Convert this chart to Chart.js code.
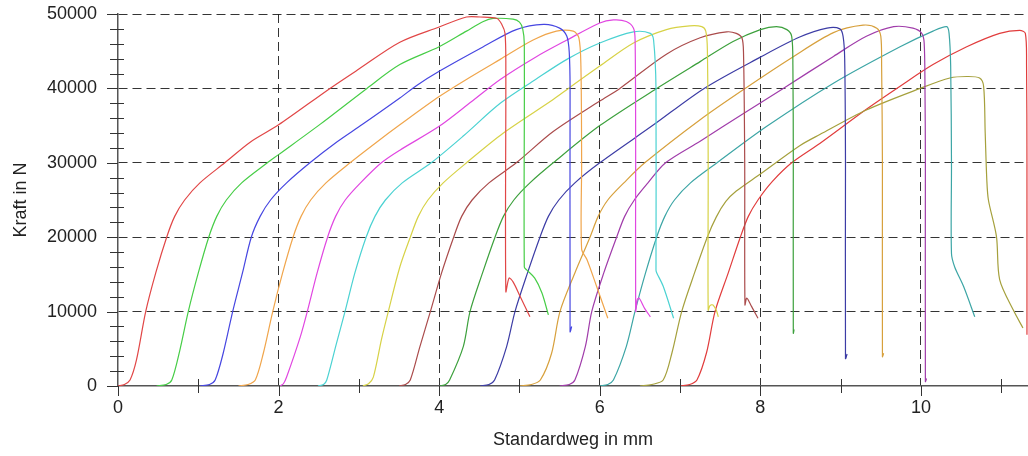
<!DOCTYPE html>
<html>
<head>
<meta charset="utf-8">
<script src="https://cdn.jsdelivr.net/npm/chart.js@4"></script>
<style>
  html, body { margin: 0; padding: 0; background: #fff; }
  #wrap { width: 1028px; height: 456px; }
</style>
</head>
<body>
<div id="wrap"><canvas id="chart"></canvas></div>
<script>
// Standardweg (mm) / Kraft (N) per Probe
const c1Mm = [0, 0.08, 0.15, 0.23, 0.345, 0.47, 0.606, 0.706, 0.83, 1.02, 1.33, 1.65, 2.0, 2.64, 3.0, 3.51, 4.0, 4.34, 4.51, 4.72, 4.78, 4.82, 4.83, 4.83, 4.87, 4.92, 5.01, 5.13];
const c1N = [0, 200, 800, 3500, 10000, 15200, 20000, 22800, 25000, 27300, 30000, 32800, 35100, 40000, 42600, 46200, 48250, 49600, 49600, 49400, 48600, 47400, 43000, 12700, 14500, 14000, 12000, 9300];

const c2Mm = [0.48, 0.6, 0.67, 0.77, 0.875, 1.0, 1.13, 1.23, 1.35, 1.54, 1.86, 2.0, 2.52, 3.1, 3.51, 4.0, 4.34, 4.55, 4.67, 4.92, 5.0, 5.04, 5.06, 5.06, 5.09, 5.19, 5.28, 5.36];
const c2N = [0, 200, 800, 4800, 10000, 15200, 20000, 22800, 25000, 27300, 30000, 31100, 35200, 40000, 43200, 45600, 47700, 49000, 49400, 49300, 48900, 48000, 46000, 16000, 15600, 14500, 12500, 9550];

const c3Mm = [1.02, 1.14, 1.21, 1.31, 1.428, 1.55, 1.66, 1.77, 1.9, 2.1, 2.39, 2.7, 3.05, 3.51, 3.72, 4.0, 4.55, 4.96, 5.3, 5.5, 5.59, 5.62, 5.63, 5.63, 5.65];
const c3N = [0, 200, 800, 4400, 10000, 15200, 20000, 22800, 25000, 27300, 30000, 32600, 35200, 38700, 40400, 42300, 45600, 47900, 48600, 48100, 47000, 44800, 40000, 7300, 8000];

const c4Mm = [1.5, 1.62, 1.71, 1.81, 1.927, 2.05, 2.18, 2.28, 2.4, 2.59, 2.89, 3.2, 3.51, 4.0, 4.4, 4.76, 5.17, 5.46, 5.67, 5.74, 5.765, 5.774, 5.774, 5.84, 5.96, 6.1];
const c4N = [0, 200, 800, 4400, 10000, 15200, 20000, 22800, 25000, 27300, 30000, 32600, 35100, 38900, 41600, 43900, 46500, 47700, 47700, 46800, 43000, 30000, 18400, 17000, 13400, 9100];

const c5Mm = [2.02, 2.06, 2.1, 2.27, 2.357, 2.48, 2.61, 2.71, 2.83, 3.02, 3.28, 3.51, 4.0, 4.4, 4.76, 5.2, 5.59, 6.0, 6.17, 6.33, 6.42, 6.44, 6.447, 6.447, 6.467, 6.49, 6.56, 6.63];
const c5N = [0, 300, 1200, 6600, 10000, 15200, 20000, 22800, 25000, 27300, 30000, 31700, 34900, 38200, 41200, 44200, 46500, 48800, 49200, 49000, 48100, 46500, 30000, 10050, 11600, 11800, 10400, 9300];

const c6Mm = [2.49, 2.56, 2.6, 2.72, 2.827, 2.95, 3.09, 3.2, 3.33, 3.54, 3.9, 4.3, 4.76, 5.2, 5.59, 6.0, 6.42, 6.63, 6.67, 6.7, 6.7, 6.71, 6.79, 6.92];
const c6N = [0, 200, 800, 5700, 10000, 15200, 20000, 22800, 25000, 27300, 30000, 33600, 38000, 41200, 43900, 46100, 47600, 47400, 46500, 40000, 15600, 15200, 13400, 9100];

const c7Mm = [3.05, 3.12, 3.18, 3.28, 3.366, 3.51, 3.64, 3.74, 3.86, 4.05, 4.34, 4.8, 5.42, 5.61, 6.0, 6.42, 6.83, 7.12, 7.27, 7.32, 7.34, 7.35, 7.35, 7.372, 7.41, 7.45, 7.476];
const c7N = [0, 300, 1200, 6200, 10000, 16000, 20000, 22800, 25000, 27300, 30000, 34000, 38500, 40000, 43000, 46100, 47900, 48400, 48300, 47700, 45200, 30000, 10200, 10800, 10900, 10200, 9300];

const c8Mm = [3.5, 3.58, 3.64, 3.76, 3.89, 4.03, 4.18, 4.28, 4.41, 4.62, 4.96, 5.42, 6.0, 6.25, 6.83, 7.25, 7.58, 7.7, 7.77, 7.79, 7.805, 7.808, 7.83, 7.89, 7.97];
const c8N = [0, 200, 800, 5300, 10000, 15200, 20000, 22800, 25000, 27300, 30000, 34200, 38300, 40000, 44600, 46800, 47600, 47400, 46800, 44800, 30000, 10900, 11800, 10700, 9100];

const c9Mm = [4.01, 4.08, 4.13, 4.3, 4.384, 4.54, 4.695, 4.8, 4.93, 5.13, 5.42, 6.0, 6.71, 7.25, 7.66, 8.0, 8.2, 8.33, 8.39, 8.405, 8.41, 8.41, 8.42];
const c9N = [0, 200, 800, 5300, 10000, 15200, 20000, 22800, 25000, 27300, 30000, 35000, 40000, 43600, 46300, 47900, 48300, 47900, 47000, 43000, 30000, 7100, 7600];

const c10Mm = [4.51, 4.62, 4.69, 4.84, 4.944, 5.1, 5.255, 5.36, 5.49, 5.69, 6.0, 6.67, 7.3, 8.0, 8.49, 8.83, 8.99, 9.03, 9.05, 9.06, 9.06, 9.08];
const c10N = [0, 200, 800, 5300, 10000, 15200, 20000, 22800, 25000, 27300, 30000, 35100, 40000, 44200, 46900, 48100, 48000, 47000, 44000, 30000, 3700, 4300];

const c11Mm = [5.0, 5.15, 5.26, 5.4, 5.504, 5.69, 5.878, 5.98, 6.1, 6.3, 6.56, 7.25, 7.81, 8.4, 8.91, 9.28, 9.45, 9.5, 9.51, 9.52, 9.52, 9.535];
const c11N = [0, 200, 800, 4400, 10000, 15200, 20000, 22800, 25000, 27300, 30000, 35800, 40000, 44200, 47500, 48500, 48100, 47000, 43000, 30000, 3950, 4400];

const c12Mm = [5.5, 5.62, 5.69, 5.82, 5.9, 6.05, 6.21, 6.31, 6.43, 6.6, 6.82, 7.25, 7.8, 8.285, 8.91, 9.32, 9.66, 9.9, 10.01, 10.04, 10.05, 10.055, 10.055, 10.07];
const c12N = [0, 200, 800, 5300, 10000, 15200, 20000, 22800, 25000, 27300, 30000, 32900, 36700, 40000, 44300, 47000, 48300, 48100, 47400, 46100, 40000, 30000, 600, 1000];

const c13Mm = [6.0, 6.1, 6.17, 6.33, 6.438, 6.57, 6.708, 6.81, 6.93, 7.13, 7.46, 8.08, 8.91, 9.74, 10.15, 10.32, 10.35, 10.37, 10.38, 10.38, 10.42, 10.53, 10.67];
const c13N = [0, 200, 800, 5300, 10000, 15200, 20000, 22800, 25000, 27300, 30000, 34900, 40700, 45600, 47700, 48300, 47400, 43000, 30000, 17800, 16000, 13400, 9300];

const c14Mm = [6.5, 6.65, 6.79, 6.9, 7.02, 7.18, 7.339, 7.45, 7.57, 7.7, 8.0, 8.49, 8.74, 9.32, 9.99, 10.36, 10.57, 10.73, 10.78, 10.8, 10.82, 10.84, 10.94, 10.98, 11.15, 11.27];
const c14N = [0, 200, 800, 4500, 10000, 15200, 20000, 22700, 24800, 26200, 28500, 32300, 33800, 37100, 40000, 41400, 41600, 41400, 40300, 34000, 27700, 25000, 20100, 14300, 10200, 7800];

const c15Mm = [7.0, 7.12, 7.21, 7.33, 7.435, 7.6, 7.75, 7.85, 7.97, 8.15, 8.39, 8.74, 9.32, 9.74, 10.15, 10.57, 10.98, 11.23, 11.3, 11.315, 11.32, 11.32];
const c15N = [0, 200, 800, 4500, 10000, 15200, 20000, 22800, 25000, 27500, 30000, 32600, 37200, 40300, 43200, 45600, 47400, 47800, 47400, 43000, 30000, 6900];

const curves = [
  [c1Mm, c1N], [c2Mm, c2N], [c3Mm, c3N], [c4Mm, c4N], [c5Mm, c5N],
  [c6Mm, c6N], [c7Mm, c7N], [c8Mm, c8N], [c9Mm, c9N], [c10Mm, c10N],
  [c11Mm, c11N], [c12Mm, c12N], [c13Mm, c13N], [c14Mm, c14N], [c15Mm, c15N]
];

const colors = [
  "rgb(225,70,70)", "rgb(70,205,70)", "rgb(70,70,225)", "rgb(240,165,75)", "rgb(225,70,225)",
  "rgb(75,210,210)", "rgb(215,210,70)", "rgb(170,75,75)", "rgb(60,160,60)", "rgb(60,60,165)",
  "rgb(215,160,60)", "rgb(160,60,170)", "rgb(60,165,165)", "rgb(165,160,60)", "rgb(225,60,60)"
];

const xMin = 0, xMax = 11.333, xStep = 1;
const yMin = 0, yMax = 50000, yStep = 2000;

const FONT = { family: "'Liberation Sans', Arial, sans-serif", size: 18 };

const datasets = curves.map(([xs, ys], i) => ({
  data: xs.map((x, j) => ({ x: x, y: ys[j] })),
  borderColor: colors[i],
  borderWidth: 1.2,
  pointRadius: 0,
  showLine: true,
  fill: false,
  tension: 0.3
}));

// tick marks crossing the axes (minor ones on both sides)
const axisTicks = {
  id: "axisTicks",
  afterDraw(chart) {
    const ctx = chart.ctx;
    const xs = chart.scales.x, ys = chart.scales.y;
    const x0 = xs.getPixelForValue(0), y0 = ys.getPixelForValue(0);
    ctx.save();
    ctx.strokeStyle = "#333";
    ctx.lineWidth = 1;
    ctx.beginPath();
    ys.ticks.forEach(t => {
      const py = Math.round(ys.getPixelForValue(t.value)) + 0.5;
      if (t.value % 10000 === 0) { ctx.moveTo(x0 - 11, py); ctx.lineTo(x0, py); }
      else { ctx.moveTo(x0 - 8, py); ctx.lineTo(x0 + 6, py); }
    });
    xs.ticks.forEach(t => {
      const px = Math.round(xs.getPixelForValue(t.value)) + 0.5;
      if (t.value % 2 === 0) { ctx.moveTo(px, y0); ctx.lineTo(px, y0 + 10); }
      else { ctx.moveTo(px, y0 - 7); ctx.lineTo(px, y0 + 7); }
    });
    ctx.stroke();
    ctx.restore();
  }
};

new Chart(document.getElementById("chart"), {
  type: "scatter",
  data: { datasets },
  options: {
    responsive: true,
    maintainAspectRatio: false,
    animation: false,
    layout: { padding: { top: 14, right: 0, left: 0, bottom: 0 } },
    plugins: { legend: { display: false }, tooltip: { enabled: false } },
    scales: {
      x: {
        type: "linear",
        min: xMin, max: xMax,
        afterFit: s => { s.height = 70; s.paddingLeft = 0; s.paddingRight = 0; },
        ticks: {
          stepSize: xStep, autoSkip: false, includeBounds: false, maxRotation: 0,
          padding: 11, color: "#222", font: FONT,
          callback: v => (v % 2 === 0 ? String(v) : "")
        },
        grid: {
          drawTicks: false,
          color: c => (c.tick && c.tick.value % 2 === 0 && c.tick.value !== 0 ? "rgba(30,30,30,0.9)" : "rgba(0,0,0,0)"),
          lineWidth: 1
        },
        border: { display: true, color: "#555", width: 1.5, dash: [9, 5] },
        title: { display: true, text: "Standardweg in mm", color: "#222", font: FONT, padding: { top: 0, bottom: 5 } }
      },
      y: {
        min: yMin, max: yMax,
        afterFit: s => { s.width = 118; s.paddingTop = 0; s.paddingBottom = 0; },
        ticks: {
          stepSize: yStep, autoSkip: false, includeBounds: false,
          padding: 21, color: "#222", font: FONT,
          callback: v => (v % 10000 === 0 ? String(v) : "")
        },
        grid: {
          drawTicks: false,
          color: c => (c.tick && c.tick.value % 10000 === 0 && c.tick.value !== 0 ? "rgba(30,30,30,0.9)" : "rgba(0,0,0,0)"),
          lineWidth: 1
        },
        border: { display: true, color: "#555", width: 1.5, dash: [9, 5] },
        title: { display: true, text: "Kraft in N", color: "#222", font: FONT, padding: { top: 10, bottom: 0 } }
      }
    }
  },
  plugins: [axisTicks]
});
</script>
</body>
</html>
